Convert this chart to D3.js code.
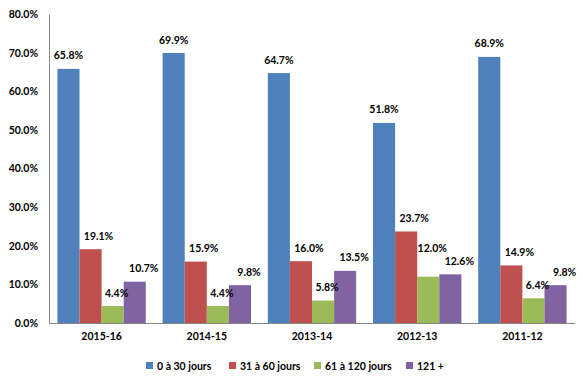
<!DOCTYPE html>
<html><head><meta charset="utf-8">
<script src="https://cdn.jsdelivr.net/npm/d3@7"></script>
<style>body{margin:0;background:#fff}svg{display:block}text{font-family:Lato,"Open Sans",sans-serif;font-weight:bold;fill:#000}</style>
</head><body><svg id="c" width="583" height="381"></svg>
<script>
const categories = ["2015-16","2014-15","2013-14","2012-13","2011-12"];
const seriesNames = ["0 à 30 jours","31 à 60 jours","61 à 120 jours","121 +"];
const s0 = [65.8,69.9,64.7,51.8,68.9];
const s1 = [19.1,15.9,16.0,23.7,14.9];
const s2 = [4.4,4.4,5.8,12.0,6.4];
const s3 = [10.7,9.8,13.5,12.6,9.8];
const yTicks = [0,10,20,30,40,50,60,70,80];
const colors = ["#4F81BD","#C0504D","#9BBB59","#8064A2"];
const series = [s0,s1,s2,s3];

(function(){
const FS = "10.5px";
const svg = d3.select("#c");
const mL = 49, mR = 575, mT = 14, mB = 323;
const x = d3.scaleBand().domain(categories).range([mL,mR]).paddingInner(0.16).paddingOuter(0.08);
const xi = d3.scaleBand().domain(d3.range(4)).range([0,x.bandwidth()]);
const y = d3.scaleLinear().domain([0,80]).range([mB,mT]);

const ya = svg.append("g").attr("transform",`translate(${mL},0)`)
  .call(d3.axisLeft(y).tickValues(yTicks).tickFormat(d=>d.toFixed(1)+"%").tickSize(0).tickPadding(11));
ya.select(".domain").attr("stroke","#868686");
ya.selectAll("text").style("font-size",FS).style("font-family","Lato,sans-serif").style("font-weight","bold").attr("fill","#000");

const g = svg.append("g");
series.forEach((s,si)=>{
  g.selectAll(null).data(s).join("rect")
    .attr("x",(d,i)=>x(categories[i])+xi(si))
    .attr("width",xi.bandwidth())
    .attr("y",d=>y(d))
    .attr("height",d=>y(0)-y(d))
    .attr("fill",colors[si]);
});

// labels with simple collision avoidance (process right-to-left within each category)
const dx = [0,8,4,9];
const lblG = svg.append("g");
categories.forEach((c,ci)=>{
  const placed = [];
  for (let si=3; si>=0; si--) {
    const v = series[si][ci];
    const cx = x(c)+xi(si)+xi.bandwidth()/2 + dx[si];
    let cy = y(v) - 13.5;
    const t = lblG.append("text").attr("x",cx).attr("text-anchor","middle")
      .attr("dominant-baseline","central").style("font-size",FS).text(v.toFixed(1)+"%");
    const w = t.node().getComputedTextLength();
    let moved = true;
    while (moved) {
      moved = false;
      for (const p of placed) {
        if (Math.abs(cx-p.cx) < (w+p.w)/2 && Math.abs(cy-p.cy) < 13) { cy = p.cy - 13; moved = true; }
      }
    }
    t.attr("y",cy);
    placed.push({cx,cy,w});
  }
});

const xa = svg.append("g").attr("transform",`translate(0,${mB})`)
  .call(d3.axisBottom(x).tickSize(0).tickPadding(10));
xa.select(".domain").attr("stroke","#868686").attr("d",`M${mL},0.5H${mR}`);
xa.selectAll("text").style("font-size",FS).style("font-family","Lato,sans-serif").style("font-weight","bold").attr("fill","#000");

const legX = [146,229,314,406];
const lg = svg.append("g");
seriesNames.forEach((n,i)=>{
  lg.append("rect").attr("x",legX[i]).attr("y",362).attr("width",7).attr("height",7).attr("fill",colors[i]);
  lg.append("text").attr("x",legX[i]+11).attr("y",365.5).attr("dominant-baseline","central").style("font-size",FS).text(n);
});
})();
</script></body></html>
